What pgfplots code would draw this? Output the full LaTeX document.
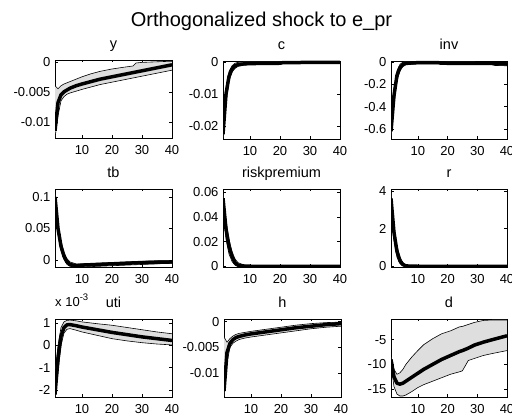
\documentclass[border=0pt]{standalone}
\usepackage{fontspec}
\setmainfont{Liberation Sans}
\usepackage{pgfplots}
\pgfplotsset{compat=1.18}
\usepackage{pgfplotstable}
\usepgfplotslibrary{fillbetween}
\definecolor{bandgray}{RGB}{222,222,222}

\pgfplotstableread{
t med lo hi
1 -0.0115 -0.0127 -0.0040
2 -0.0068 -0.0090 -0.0045
3 -0.0055 -0.0065 -0.0040
4 -0.0050 -0.0058 -0.0037
5 -0.0047 -0.0054 -0.0035
6 -0.0044 -0.0052 -0.0033
8 -0.0040 -0.0049 -0.0029
10 -0.0037 -0.0046 -0.0025
13 -0.0033 -0.0042 -0.0020
16 -0.0029 -0.0038 -0.0016
20 -0.0025 -0.0034 -0.0012
24 -0.0021 -0.0030 -0.0009
27 -0.0018 -0.0027 -0.0007
28 -0.0017 -0.0026 -0.0002
30 -0.0015 -0.0024 -0.0001
35 -0.0010 -0.0019 0.0000
40 -0.0005 -0.0014 0.0001
}\dY

\pgfplotstableread{
t med lo hi
1 -0.0225 -0.0235 -0.0205
2 -0.0100 -0.0130 -0.0080
3 -0.0045 -0.0060 -0.0030
4 -0.0022 -0.0032 -0.0012
5 -0.0012 -0.0020 -0.0004
6 -0.0008 -0.0014 -0.0001
8 -0.0006 -0.0010 0.0000
10 -0.0005 -0.0008 0.0000
20 -0.0004 -0.0007 0.0000
21 -0.0002 -0.0004 0.0001
40 -0.0001 -0.0003 0.0001
}\dC

\pgfplotstableread{
t med lo hi
1 -0.62 -0.66 -0.56
2 -0.30 -0.38 -0.24
3 -0.12 -0.17 -0.08
4 -0.05 -0.08 -0.02
5 -0.02 -0.04 0.00
6 -0.01 -0.025 0.005
10 -0.005 -0.015 0.005
17 -0.005 -0.015 0.005
18 -0.010 -0.020 0.003
35 -0.012 -0.022 0.000
36 -0.015 -0.030 0.000
40 -0.017 -0.033 0.000
}\dInv

\pgfplotstableread{
t med lo hi
1 0.100 0.095 0.104
2 0.050 0.042 0.058
3 0.022 0.015 0.030
4 0.006 0.001 0.012
5 -0.003 -0.007 0.002
6 -0.007 -0.010 -0.003
8 -0.009 -0.011 -0.006
10 -0.008 -0.011 -0.006
15 -0.007 -0.010 -0.005
20 -0.006 -0.009 -0.004
25 -0.005 -0.008 -0.003
30 -0.004 -0.007 -0.002
35 -0.0035 -0.006 -0.001
40 -0.003 -0.005 -0.001
}\dTb

\pgfplotstableread{
t med lo hi
1 0.055 0.050 0.058
2 0.030 0.022 0.037
3 0.016 0.010 0.022
4 0.008 0.004 0.012
5 0.003 0.001 0.006
6 0.001 0.000 0.003
8 0.0003 0.000 0.001
10 0.0001 0.000 0.0005
40 0.000 0.000 0.0002
}\dRp

\pgfplotstableread{
t med lo hi
1 3.6 3.4 3.9
2 1.8 1.4 2.2
3 0.8 0.5 1.1
4 0.3 0.15 0.5
5 0.1 0.03 0.2
6 0.03 0.0 0.07
8 0.01 0.0 0.02
40 0.0 -0.01 0.01
}\dR

\pgfplotstableread{
t med lo hi
1 -2.2 -2.3 -1.3
2 -0.6 -1.2 0.0
3 0.4 0.0 0.8
4 0.8 0.55 1.05
5 0.92 0.72 1.12
6 0.93 0.75 1.13
8 0.88 0.68 1.10
10 0.82 0.60 1.05
15 0.70 0.45 0.97
20 0.58 0.30 0.90
25 0.48 0.20 0.80
30 0.38 0.12 0.70
35 0.30 0.06 0.60
40 0.22 0.02 0.52
}\dUti

\pgfplotstableread{
t med lo hi
1 -0.0135 -0.0145 -0.0030
2 -0.0060 -0.0080 -0.0040
3 -0.0042 -0.0050 -0.0033
4 -0.0035 -0.0042 -0.0028
5 -0.0031 -0.0038 -0.0025
6 -0.0029 -0.0035 -0.0023
8 -0.0026 -0.0032 -0.0021
10 -0.0024 -0.0030 -0.0019
15 -0.0020 -0.0026 -0.0015
20 -0.0016 -0.0022 -0.0011
25 -0.0012 -0.0018 -0.0007
30 -0.0009 -0.0014 -0.0004
35 -0.0006 -0.0011 -0.0002
40 -0.0004 -0.0009 -0.0001
}\dH

\pgfplotstableread{
t med lo hi
1 -9.0 -10.0 -8.5
2 -12.5 -14.5 -11.0
3 -13.8 -16.0 -12.0
4 -14.0 -16.4 -11.7
5 -13.8 -16.4 -11.0
6 -13.4 -16.2 -10.0
8 -12.6 -15.5 -8.5
10 -11.8 -14.7 -7.2
12 -11.0 -14.1 -6.0
15 -10.0 -13.4 -4.8
18 -9.0 -12.7 -3.8
21 -8.2 -12.0 -3.2
24 -7.4 -11.5 -2.4
25 -7.2 -11.3 -2.3
27 -6.7 -9.2 -1.9
29 -6.1 -8.8 -1.5
32 -5.5 -8.2 -1.1
35 -5.0 -7.8 -1.0
40 -4.2 -7.2 -1.0
}\dD

\pgfplotsset{
  irf/.style={
    scale only axis, width=117pt, height=78pt,
    anchor=south west,
    xmin=1, xmax=40, xtick={10,20,30,40},
    tick align=inside, major tick length=2.5pt,
    tick label style={font=\fontsize{13}{15}\selectfont},
    /pgf/number format/assume math mode=true,
    xticklabel style={yshift=-4pt},
    yticklabel style={xshift=-1pt},
    scaled y ticks=false,
    title style={at={(0.5,1)}, anchor=base, yshift=5pt, font=\fontsize{14.5}{16}\selectfont},
    axis line style={line width=0.5pt},
    every tick/.style={black, line width=0.5pt},
  },
}

\newcommand{\irfplots}[1]{%
  \addplot[draw=none, name path=hi] table[x=t,y=hi]{#1};
  \addplot[draw=none, name path=lo] table[x=t,y=lo]{#1};
  \addplot[bandgray] fill between[of=hi and lo];
  \addplot[black, line width=0.6pt] table[x=t,y=hi]{#1};
  \addplot[black, line width=0.6pt] table[x=t,y=lo]{#1};
  \addplot[black, line width=3.5pt, line join=round] table[x=t,y=med]{#1};
}

\begin{document}
\begin{tikzpicture}
\node[anchor=base, font=\fontsize{20}{22}\selectfont] at (261.5pt,390pt) {Orthogonalized shock to e\_pr};

% row 1
\begin{axis}[irf, at={(55pt,279pt)}, title={y}, ymin=-0.0127, ymax=0.0003,
  ytick={-0.01,-0.005,0}, yticklabels={-0.01,-0.005,0}]
\irfplots{\dY}
\end{axis}
\begin{axis}[irf, at={(223pt,278pt)}, title={c}, ymin=-0.024, ymax=0.0003,
  ytick={-0.02,-0.01,0}, yticklabels={-0.02,-0.01,0}]
\irfplots{\dC}
\end{axis}
\begin{axis}[irf, at={(391pt,278pt)}, width=116pt, title={inv}, ymin=-0.69, ymax=0.01,
  ytick={-0.6,-0.4,-0.2,0}, yticklabels={-0.6,-0.4,-0.2,0}]
\irfplots{\dInv}
\end{axis}

% row 2
\begin{axis}[irf, at={(55pt,150pt)}, title={tb}, ymin=-0.011, ymax=0.1126,
  ytick={0,0.05,0.1}, yticklabels={0,0.05,0.1}]
\irfplots{\dTb}
\end{axis}
\begin{axis}[irf, at={(223pt,150pt)}, title={riskpremium}, ymin=-0.0005, ymax=0.0624,
  ytick={0,0.02,0.04,0.06}, yticklabels={0,0.02,0.04,0.06}]
\irfplots{\dRp}
\end{axis}
\begin{axis}[irf, at={(391pt,150pt)}, width=116pt, title={r}, ymin=-0.03, ymax=4.1,
  ytick={0,2,4}, yticklabels={0,2,4}]
\irfplots{\dR}
\end{axis}

% row 3
\begin{axis}[irf, at={(55pt,20pt)}, title={uti}, ymin=-2.31, ymax=1.18,
  ytick={-2,-1,0,1}, yticklabels={-2,-1,0,1}]
\irfplots{\dUti}
\end{axis}
\node[anchor=base west, font=\fontsize{13}{15}\selectfont, inner sep=0pt] at (55pt,110pt) {x 10\raisebox{6pt}{\fontsize{9.5}{10}\selectfont -3}};
\begin{axis}[irf, at={(224pt,20pt)}, title={h}, ymin=-0.01466, ymax=0.0005,
  ytick={-0.01,-0.005,0}, yticklabels={-0.01,-0.005,0}]
\irfplots{\dH}
\end{axis}
\begin{axis}[irf, at={(391pt,20pt)}, width=116pt, title={d}, ymin=-16.6, ymax=-0.8,
  ytick={-15,-10,-5}, yticklabels={-15,-10,-5}]
\irfplots{\dD}
\end{axis}
\pgfresetboundingbox
\path[use as bounding box] (0,0) rectangle (512pt,417pt);
\end{tikzpicture}
\end{document}
